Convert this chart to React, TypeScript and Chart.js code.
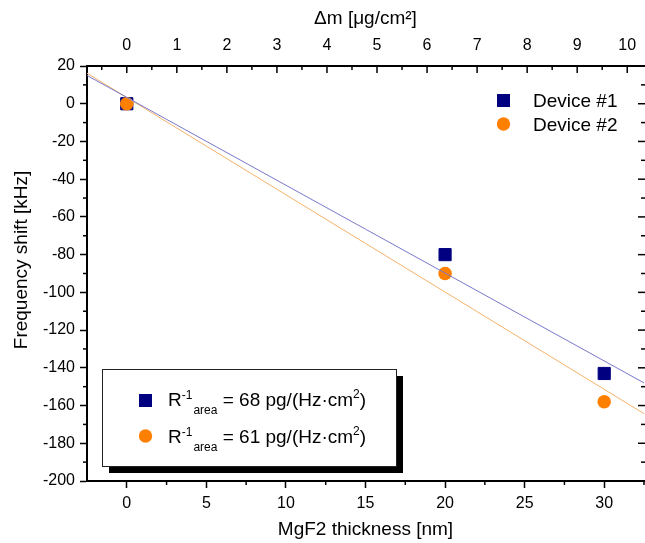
import React, { useEffect, useRef } from "react";
import { Chart, registerables } from "chart.js";

Chart.register(...registerables);

// ---- data ----
const thicknessNm = [0, 20, 30];
const device1Shift = [0, -80, -143];
const device2Shift = [0, -90, -158];

const fit1X = [-2.5, 32.5];
const fit1Y = [15, -148];
const fit2X = [-2.5, 32.5];
const fit2Y = [16.2, -164.3];

const xRange = [-2.5, 32.5];
const yRange = [-200, 20];
const xTicks = [0, 5, 10, 15, 20, 25, 30];
const xMinorTicks = [2.5, 7.5, 12.5, 17.5, 22.5, 27.5, 32.5];
const yTicks = [-200, -180, -160, -140, -120, -100, -80, -60, -40, -20, 0, 20];
const yMinorTicks = [-190, -170, -150, -130, -110, -90, -70, -50, -30, -10, 10];
const topTicks = [0, 1, 2, 3, 4, 5, 6, 7, 8, 9, 10];
const topMinorTicks = [-0.5, 0.5, 1.5, 2.5, 3.5, 4.5, 5.5, 6.5, 7.5, 8.5, 9.5];
const deltaMPerNm = 0.318; // top axis (µg/cm²) per nm of MgF2

const seriesNames = ["Device #1", "Device #2"];
const fitValues = ["68", "61"]; // R^-1_area in pg/(Hz·cm²)
const yTitle = "Frequency shift [kHz]";

const NAVY = "#000080";
const ORANGE = "#ff8000";
const FIT_BLUE = "#7878cc";
const FIT_ORANGE = "#f5b26a";
const FONT = "'Liberation Sans', Arial, sans-serif";

const decorPlugin = {
  id: "decor",
  afterDraw(chart: any) {
    const { ctx, chartArea: a, scales } = chart;
    const x = scales.x;
    const x2 = scales.x2;
    const y = scales.y;
    ctx.save();
    ctx.strokeStyle = "#000";
    ctx.lineWidth = 1.5;
    const line = (x0: number, y0: number, x1: number, y1: number) => {
      ctx.beginPath();
      ctx.moveTo(x0, y0);
      ctx.lineTo(x1, y1);
      ctx.stroke();
    };
    // bottom minor (outward)
    xMinorTicks.forEach((v) => {
      const p = x.getPixelForValue(v);
      if (p >= a.left && p <= a.right) line(p, a.bottom, p, a.bottom + 4);
    });
    // top major / minor (inward)
    topTicks.forEach((v) => {
      const p = x2.getPixelForValue(v);
      if (p >= a.left && p <= a.right) line(p, a.top, p, a.top + 7);
    });
    topMinorTicks.forEach((v) => {
      const p = x2.getPixelForValue(v);
      if (p >= a.left && p <= a.right) line(p, a.top, p, a.top + 4);
    });
    // left minor (outward)
    yMinorTicks.forEach((v) => {
      const p = y.getPixelForValue(v);
      line(a.left - 4, p, a.left, p);
    });
    // right major / minor (inward)
    yTicks.forEach((v) => {
      const p = y.getPixelForValue(v);
      line(a.right - 6, p, a.right + 1, p);
    });
    yMinorTicks.forEach((v) => {
      const p = y.getPixelForValue(v);
      line(a.right - 3, p, a.right + 1, p);
    });

    // ---- y axis title ----
    ctx.save();
    ctx.translate(22, 260);
    ctx.rotate(-Math.PI / 2);
    ctx.fillStyle = "#000";
    ctx.font = `19px ${FONT}`;
    ctx.textAlign = "center";
    ctx.textBaseline = "middle";
    ctx.fillText(yTitle, 0, 0);
    ctx.restore();

    // ---- legend: devices (top right) ----
    ctx.fillStyle = NAVY;
    ctx.fillRect(497, 94, 13, 13);
    ctx.fillStyle = ORANGE;
    ctx.beginPath();
    ctx.arc(503.5, 124, 6.7, 0, Math.PI * 2);
    ctx.fill();
    ctx.fillStyle = "#000";
    ctx.font = `19px ${FONT}`;
    ctx.textBaseline = "alphabetic";
    ctx.textAlign = "left";
    ctx.fillText(seriesNames[0], 533, 107);
    ctx.fillText(seriesNames[1], 533, 131);

    // ---- legend: fit results (bottom left box) ----
    const bx = 102, by = 369, bw = 294, bh = 97;
    ctx.fillStyle = "#000";
    ctx.fillRect(bx + 7, by + 7, bw, bh);
    ctx.fillStyle = "#fff";
    ctx.fillRect(bx, by, bw, bh);
    ctx.strokeStyle = "#222";
    ctx.lineWidth = 1;
    ctx.strokeRect(bx + 0.5, by + 0.5, bw, bh);

    ctx.fillStyle = NAVY;
    ctx.fillRect(139, 394, 13, 13);
    ctx.fillStyle = ORANGE;
    ctx.beginPath();
    ctx.arc(145.5, 436, 6.7, 0, Math.PI * 2);
    ctx.fill();

    const drawFitText = (base: number, val: string) => {
      ctx.fillStyle = "#000";
      let cx = 168;
      ctx.font = `19px ${FONT}`;
      ctx.fillText("R", cx, base);
      cx += ctx.measureText("R").width;
      ctx.font = `12px ${FONT}`;
      ctx.fillText("-1", cx, base - 7);
      const supW = ctx.measureText("-1").width;
      ctx.fillText("area", cx + supW + 1, base + 8);
      cx = cx + supW + 1 + ctx.measureText("area").width;
      ctx.font = `19px ${FONT}`;
      const main = ` = ${val} pg/(Hz\u00B7cm`;
      ctx.fillText(main, cx, base);
      cx += ctx.measureText(main).width;
      ctx.font = `12px ${FONT}`;
      ctx.fillText("2", cx, base - 8);
      cx += ctx.measureText("2").width;
      ctx.font = `19px ${FONT}`;
      ctx.fillText(")", cx, base);
    };
    drawFitText(406, fitValues[0]);
    drawFitText(443, fitValues[1]);
    ctx.restore();
  },
};

const toPts = (xs: number[], ys: number[]) => xs.map((v, i) => ({ x: v, y: ys[i] }));

const noHPad = (s: any) => {
  s.paddingLeft = 0;
  s.paddingRight = 0;
};
const noVPad = (s: any) => {
  s.paddingTop = 0;
  s.paddingBottom = 0;
};

export default function App() {
  const ref = useRef<HTMLCanvasElement | null>(null);
  useEffect(() => {
    if (!ref.current) return;
    const tickFont = { family: FONT, size: 16 };
    const titleFont = { family: FONT, size: 19 };
    const chart = new Chart(ref.current, {
      type: "scatter",
      data: {
        datasets: [
          {
            type: "line",
            data: toPts(fit1X, fit1Y),
            borderColor: FIT_BLUE,
            borderWidth: 1,
            pointRadius: 0,
            fill: false,
          },
          {
            type: "line",
            data: toPts(fit2X, fit2Y),
            borderColor: FIT_ORANGE,
            borderWidth: 1,
            pointRadius: 0,
            fill: false,
          },
          {
            label: seriesNames[1],
            data: toPts(thicknessNm, device2Shift),
            pointStyle: "circle",
            pointRadius: 6.8,
            backgroundColor: ORANGE,
            borderWidth: 0,
          },
          {
            label: seriesNames[0],
            data: toPts(thicknessNm, device1Shift),
            pointStyle: "rect",
            pointRadius: 8.6,
            backgroundColor: NAVY,
            borderColor: NAVY,
            borderWidth: 1,
          },
        ],
      } as any,
      options: {
        animation: false,
        responsive: false,
        events: [],
        layout: { padding: 0, autoPadding: false },
        plugins: { legend: { display: false }, tooltip: { enabled: false } },
        scales: {
          x: {
            type: "linear",
            position: "bottom",
            min: xRange[0],
            max: xRange[1],
            afterBuildTicks: (s: any) => {
              s.ticks = xTicks.map((v) => ({ value: v }));
            },
            afterFit: (s: any) => {
              s.height = 62;
              noHPad(s);
            },
            ticks: { font: tickFont, color: "#000", padding: 6, maxRotation: 0, callback: (v: any) => String(v) },
            grid: { display: true, drawOnChartArea: false, drawTicks: true, tickLength: 7, tickWidth: 1.5, tickColor: "#000" },
            border: { display: true, color: "#000", width: 2 },
            title: { display: true, text: "MgF2 thickness [nm]", font: titleFont, color: "#000", padding: { top: 0, bottom: 2 } },
          },
          x2: {
            type: "linear",
            position: "top",
            min: xRange[0] * deltaMPerNm,
            max: xRange[1] * deltaMPerNm,
            afterBuildTicks: (s: any) => {
              s.ticks = topTicks.map((v) => ({ value: v }));
            },
            afterFit: (s: any) => {
              s.height = 66;
              noHPad(s);
            },
            ticks: { font: tickFont, color: "#000", padding: 11, maxRotation: 0, callback: (v: any) => String(v) },
            grid: { display: false, drawOnChartArea: false, drawTicks: false },
            border: { display: true, color: "#000", width: 2 },
            title: { display: true, text: "\u0394m [\u03BCg/cm\u00B2]", font: titleFont, color: "#000", padding: { top: 7, bottom: 0 } },
          },
          y: {
            type: "linear",
            position: "left",
            min: yRange[0],
            max: yRange[1],
            afterBuildTicks: (s: any) => {
              s.ticks = yTicks.map((v) => ({ value: v }));
            },
            afterFit: (s: any) => {
              s.width = 87;
              noVPad(s);
            },
            ticks: { font: tickFont, color: "#000", padding: 5, callback: (v: any) => String(v) },
            grid: { display: true, drawOnChartArea: false, drawTicks: true, tickLength: 7, tickWidth: 1.5, tickColor: "#000" },
            border: { display: true, color: "#000", width: 2 },
            title: { display: false },
          },
          y2: {
            type: "linear",
            position: "right",
            min: yRange[0],
            max: yRange[1],
            afterFit: (s: any) => {
              s.width = 1;
              noVPad(s);
            },
            ticks: { display: false },
            grid: { display: false, drawOnChartArea: false, drawTicks: false },
            border: { display: false },
          },
        },
      } as any,
      plugins: [decorPlugin],
    });
    return () => chart.destroy();
  }, []);

  return (
    <div style={{ position: "absolute", left: 0, top: 0, width: 645, height: 543, background: "#fff" }}>
      <canvas ref={ref} width={645} height={543} style={{ display: "block" }} />
    </div>
  );
}
